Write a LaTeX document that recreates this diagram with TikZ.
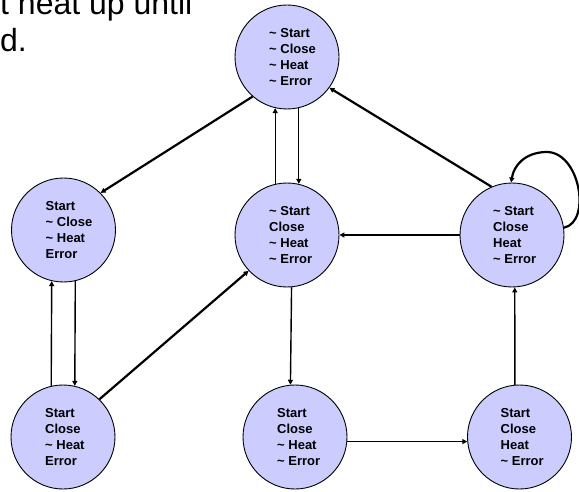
\documentclass[tikz,border=0pt]{standalone}
\usepackage{fontspec}
\setmainfont{Liberation Sans}
\usetikzlibrary{arrows.meta}
\definecolor{statefill}{RGB}{204,204,255}
\newcommand{\nt}{\textasciitilde\ }
\begin{document}
\begin{tikzpicture}[x=1pt,y=-1pt,
  state/.style={circle, draw=black, line width=0.9pt, fill=statefill, minimum size=104pt, inner sep=0pt},
  lbl/.style={anchor=west, align=left, inner sep=0pt, font=\fontsize{13}{16}\selectfont\bfseries},
  head/.style={anchor=base west, inner sep=0pt, font=\fontsize{32}{37}\selectfont},
  conn/.style={line width=1.4pt, -{Triangle[length=5pt,width=5pt]}},
  hconn/.style={conn, line width=1.8pt},
  dconn/.style={conn, line width=2.2pt}]
\useasboundingbox (0,0) rectangle (579,492);

% cut-off slide text
\node[head] (h1) at (0,15) {t heat up until};
\node[head] (h2) at (0,52) {d.};

% states
\node[state] (T)  at (287,57)  {};
\node[state] (L)  at (63.5,230) {};
\node[state] (C)  at (287,235) {};
\node[state] (R)  at (512,235) {};
\node[state] (BL) at (63,437)  {};
\node[state] (BM) at (295,437) {};
\node[state] (BR) at (519.5,437) {};

\node[lbl] (tT)  at ([xshift=-18pt]T.center)  {\nt Start\\\nt Close\\\nt Heat\\\nt Error};
\node[lbl] (tL)  at ([xshift=-18pt]L.center)  {Start\\\nt Close\\\nt Heat\\Error};
\node[lbl] (tC)  at ([xshift=-18pt]C.center)  {\nt Start\\Close\\\nt Heat\\\nt Error};
\node[lbl] (tR)  at ([xshift=-19pt]R.center)  {\nt Start\\Close\\Heat\\\nt Error};
\node[lbl] (tBL) at ([xshift=-18pt]BL.center) {Start\\Close\\\nt Heat\\Error};
\node[lbl] (tBM) at ([xshift=-18pt]BM.center) {Start\\Close\\\nt Heat\\\nt Error};
\node[lbl] (tBR) at ([xshift=-19pt]BR.center) {Start\\Close\\Heat\\\nt Error};

% transitions
\draw[dconn] (T.229) -- (L.45);
\draw[conn] (C.103) -- (T.257);
\draw[conn] (T.283) -- (C.77);
\draw[dconn] (R.113) -- (T.-36);
\draw[dconn] (R.8) .. controls (592,222) and (580,150) .. (545,152)
             .. controls (525,153) and (514,165) .. (R.91);
\draw[hconn] (R.west) -- (C.east);
\draw[conn] (BL.103) -- (L.257);
\draw[conn] (L.283) -- (BL.77);
\draw[dconn] (BL.46) -- (C.223);
\draw[conn] (C.-85) -- (BM.95);
\draw[hconn] (BM.-5) -- (BR.185);
\draw[conn] (BR.95) -- (R.-87);
\end{tikzpicture}
\end{document}
